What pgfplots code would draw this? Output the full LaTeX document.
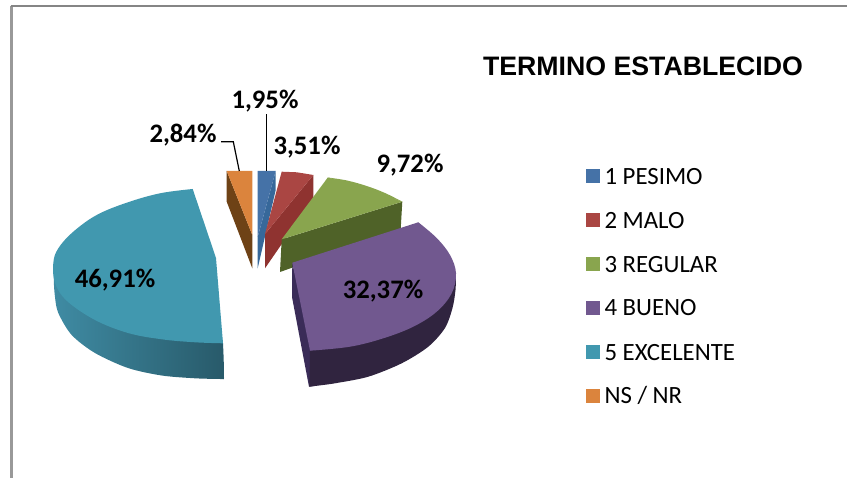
\documentclass[border=0pt]{standalone}
\usepackage{pgfplots}
\pgfplotsset{compat=1.18}
\usepackage{fontspec}
\setmainfont{Carlito}
\newfontfamily\titlefont{Liberation Sans}
\newcommand\lab{\fontsize{26.7}{28}\selectfont\bfseries}
\definecolor{cB}{HTML}{4572A7}\definecolor{cBs}{HTML}{37689A}
\definecolor{cR}{HTML}{AA4643}\definecolor{cRs}{HTML}{8F3330}
\definecolor{cG}{HTML}{89A54E}\definecolor{cGs}{HTML}{4F6228}
\definecolor{cP}{HTML}{71588F}\definecolor{cPs}{HTML}{30243F}\definecolor{cPi}{HTML}{3A2C58}
\definecolor{cT}{HTML}{4198AF}\definecolor{cTa}{HTML}{3F8BA3}\definecolor{cTm}{HTML}{357488}\definecolor{cTb}{HTML}{285A6A}
\definecolor{cO}{HTML}{DB843D}\definecolor{cOs}{HTML}{6E4216}
\begin{document}
\begin{tikzpicture}[x=1pt,y=1pt]
\path[use as bounding box] (0,0) rectangle (847,478);
\begin{axis}[
  at={(0,0)},anchor=south west,
  scale only axis,width=847pt,height=478pt,
  xmin=0,xmax=847,ymin=0,ymax=478,y dir=reverse,
  hide axis,clip=false,
  legend image code/.code={\fill[#1] (0pt,-7pt) rectangle (14pt,7pt);},
  legend cell align=left,
  legend style={at={(axis cs:586,168)},anchor=north west,draw=none,fill=none,
    inner sep=0pt,outer sep=0pt,font=\fontsize{24.8}{26}\selectfont,
    row sep=28pt,
    nodes={inner sep=0pt,outer sep=0pt,text height=16pt,text depth=0pt},
    /tikz/every odd column/.style={column sep=4.5pt}},
]
% frame
\addplot[forget plot,draw=black!40,line width=2.4pt] coordinates {(11.5,478)(11.5,5.8)};
\addplot[forget plot,draw=black!48,line width=1.7pt] coordinates {(10.5,5.8)(847,5.8)};
% 1 PESIMO
\addplot[forget plot,fill=cBs,draw=none] coordinates {(275.7,171)(275.7,190)(257.7,268.3)(257.7,237)} --cycle;
\addplot[fill=cB,draw=none] coordinates {(257.7,171)(275.7,171)(257.7,237)} --cycle;
\addlegendentry{1 PESIMO}
% 2 MALO
\addplot[forget plot,fill=cRs,draw=none] coordinates {(313.3,175)(313.3,198.3)(265,268.3)(265,234)} --cycle;
\addplot[fill=cR,draw=none] coordinates {(265,234)(281.7,171.7)(297,172.3)(313.3,175)} --cycle;
\addlegendentry{2 MALO}
% 3 REGULAR
\addplot[forget plot,fill=cGs,draw=none] coordinates {(281.7,239.3)(402.3,201.7)(400.7,229)(280,272)} --cycle;
\addplot[fill=cG,draw=none,smooth,tension=0.6] coordinates {(327.8,177.5)(347,180.5)(366.7,186)(385,193)(402.3,201.7)} --cycle;
\addlegendentry{3 REGULAR}
\addplot[forget plot,fill=cG,draw=none] coordinates {(281.7,239.3)(327.8,177.5)(360,186)(402.3,201.7)} --cycle;
% 4 BUENO
\addplot[forget plot,fill=cPi,draw=none] coordinates {(292.3,262.7)(292,297)(309,386.7)(314,386)(314,350)} --cycle;
\addplot[forget plot,fill=cPs,draw=none,smooth,tension=0.5] coordinates {(456,273)(455.5,290)(452.5,308)(445,328)(428.3,346.7)(401.7,363.3)(368.3,376.7)(335,383.3)(315,386)(310,386.7)(309.3,386.7)(309.3,385)(309.7,370)(310,350.7)} --cycle;
\addplot[fill=cP,draw=none,smooth,tension=0.6] coordinates {(418.3,222.3)(436.7,238)(450,255)(456,273.3)(451.7,293.3)(436.7,311.7)(413.3,326.7)(383.3,338.3)(350,346.7)(310,350.7)} --cycle;
\addlegendentry{4 BUENO}
\addplot[forget plot,fill=cP,draw=none] coordinates {(292.3,262.7)(418.3,222.3)(430,270)(380,320)(310,350.7)} --cycle;
% 5 EXCELENTE
\addplot[forget plot,shade,left color=cTa,middle color=cTm,right color=cTb,draw=none,smooth,tension=0.5] coordinates {(54.5,262)(53.8,280)(55,297)(58.3,313)(71.7,335)(95,353)(128,368)(161.7,375.5)(195,378.3)(220,379)(223.5,379)(224,378)(223.7,360)(223,343.3)} --cycle;
\addplot[fill=cT,draw=none,smooth,tension=0.6] coordinates {(192.7,189)(160,193.3)(126.7,202.7)(96.7,215)(73.3,231.7)(58.3,248.3)(53.3,263)(55,283)(67,301)(95,320)(128,333)(161.7,339.3)(195,342.3)(223,343.3)} --cycle;
\addlegendentry{5 EXCELENTE}
\addplot[forget plot,fill=cT,draw=none] coordinates {(192.7,189)(216,258)(223,343.3)(195,330)(120,270)(170,200)} --cycle;
% NS / NR
\addplot[forget plot,fill=cOs,draw=none] coordinates {(226.7,171)(226.7,201.7)(252.3,268.3)(252.3,235)} --cycle;
\addplot[fill=cO,draw=none] coordinates {(226.7,171)(252.3,171)(252.3,235)} --cycle;
\addlegendentry{NS / NR}
% leaders
\addplot[forget plot,draw=black,line width=1.2pt] coordinates {(221,141.7)(233.3,141.7)(239.3,171)};
\addplot[forget plot,draw=black,line width=1.2pt] coordinates {(266.7,114.3)(266.7,171)};
% data labels
\node[font=\lab] at (axis cs:265,101) {1,95\%};
\node[font=\lab] at (axis cs:183,135) {2,84\%};
\node[font=\lab] at (axis cs:307,147) {3,51\%};
\node[font=\lab] at (axis cs:410,165) {9,72\%};
\node[font=\lab] at (axis cs:115,280) {46,91\%};
\node[font=\lab] at (axis cs:383,291) {32,37\%};
\node[font=\titlefont\fontsize{26.7}{28}\selectfont\bfseries] at (axis cs:643,66) {TERMINO ESTABLECIDO};
\end{axis}
\end{tikzpicture}
\end{document}
